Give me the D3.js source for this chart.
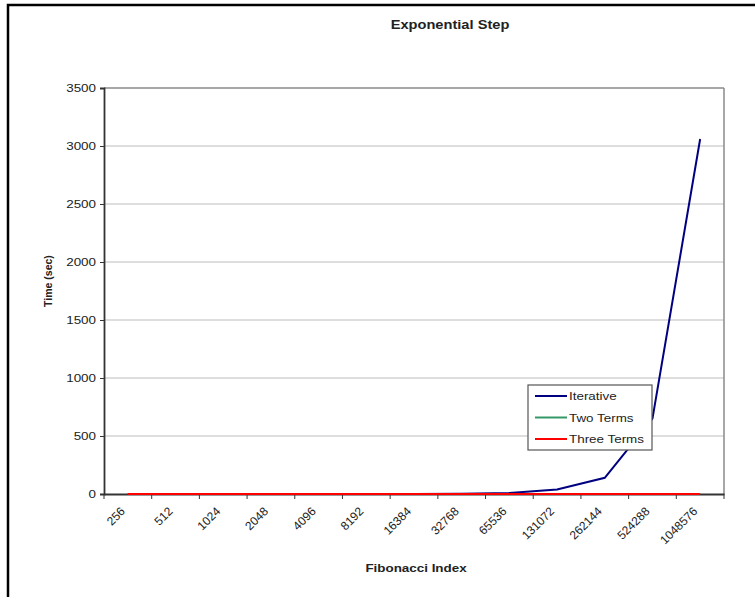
<!DOCTYPE html>
<html>
<head>
<meta charset="utf-8">
<script src="https://cdn.jsdelivr.net/npm/d3@7/dist/d3.min.js"></script>
<style>
html,body{margin:0;padding:0;background:#fff;}
svg{display:block;}
text{font-family:"Liberation Sans",Arial,sans-serif;fill:#222;}
</style>
</head>
<body>
<svg id="chart" width="755" height="597"></svg>
<script>
const categories = ["256","512","1024","2048","4096","8192","16384","32768","65536","131072","262144","524288","1048576"];
const iterative  = [0.01,0.02,0.05,0.1,0.2,0.5,1,3,8,38,140,650,3060];
const twoTerms   = [0,0,0,0,0,0,0,0,0,0,0,0,0];
const threeTerms = [0,0,0,0,0,0,0,0,0,0,0,0,0];
const yTicks = [0,500,1000,1500,2000,2500,3000,3500];
const seriesNames = ["Iterative","Two Terms","Three Terms"];
const seriesColors = ["#000080","#339966","#ff0000"];

const svg = d3.select("#chart");
const L = 104, R = 724, T = 88, B = 494;
const SX = 1.22; // horizontal stretch of the reference text

// outer frame
svg.append("rect").attr("x",8).attr("y",5).attr("width",800).attr("height",700)
  .attr("fill","#fff").attr("stroke","#000").attr("stroke-width",2.5);

const x = d3.scaleBand().domain(categories).range([L,R]).padding(0);
const y = d3.scaleLinear().domain([0,3500]).range([B,T]);

// gridlines
svg.append("g").selectAll("line").data(yTicks.filter(d=>d>0)).join("line")
  .attr("x1",L).attr("x2",R).attr("y1",d=>y(d)).attr("y2",d=>y(d))
  .attr("stroke",d=>d===3500?"#8a8a8a":"#bcbcbc").attr("stroke-width",d=>d===3500?1.5:1);
svg.append("line").attr("x1",R).attr("x2",R).attr("y1",T).attr("y2",B)
  .attr("stroke","#8a8a8a").attr("stroke-width",1.5);

// y axis
const yAxis = d3.axisLeft(y).tickValues(yTicks).tickSize(4).tickFormat(d3.format("d"));
const gy = svg.append("g").attr("transform",`translate(${L},0)`).call(yAxis);
gy.select(".domain").attr("stroke","#333").attr("stroke-width",1.8);
gy.selectAll(".tick line").attr("stroke","#333");
gy.selectAll(".tick text").style("font-size","11px").attr("fill","#222")
  .attr("x",0).attr("transform",`translate(-8,0) scale(${SX},1)`);

// x axis
const xAxis = d3.axisBottom(x).tickSize(0).tickFormat(d=>d);
const gx = svg.append("g").attr("transform",`translate(0,${B})`).call(xAxis);
gx.select(".domain").attr("stroke","#333").attr("stroke-width",1.8);
gx.selectAll(".tick text")
  .style("font-size","12px").attr("fill","#222")
  .attr("text-anchor","end")
  .attr("dy",null).attr("y",0)
  .attr("transform","translate(-2,18) rotate(-45)");
// boundary ticks
svg.append("g").selectAll("line").data(categories.concat(["__end"])).join("line")
  .attr("x1",(d,i)=>L + i*x.step()).attr("x2",(d,i)=>L + i*x.step())
  .attr("y1",B).attr("y2",B+5).attr("stroke","#333").attr("stroke-width",1);

// series
const line = d3.line().x((d,i)=>x(categories[i])+x.bandwidth()/2).y(d=>y(d));
[iterative,twoTerms,threeTerms].forEach((s,k)=>{
  svg.append("path").datum(s).attr("d",line).attr("fill","none")
    .attr("stroke",seriesColors[k]).attr("stroke-width",2);
});

// titles
svg.append("text").attr("transform",`translate(450,29) scale(${SX},1)`).attr("text-anchor","middle")
  .style("font-size","12px").style("font-weight","bold").text("Exponential Step");
svg.append("text").attr("transform",`translate(416,572) scale(${SX},1)`).attr("text-anchor","middle")
  .style("font-size","11px").style("font-weight","bold").text("Fibonacci Index");
svg.append("text").attr("transform",`translate(52,${(T+B)/2-10}) rotate(-90)`).attr("text-anchor","middle")
  .style("font-size","10.5px").style("font-weight","bold").text("Time (sec)");

// legend
const lg = svg.append("g");
lg.append("rect").attr("x",528).attr("y",385).attr("width",124).attr("height",65)
  .attr("fill","#fff").attr("stroke","#555").attr("stroke-width",1.2);
seriesNames.forEach((n,i)=>{
  const yy = 396 + i*21.5;
  lg.append("line").attr("x1",535).attr("x2",567).attr("y1",yy).attr("y2",yy)
    .attr("stroke",seriesColors[i]).attr("stroke-width",2);
  lg.append("text").attr("transform",`translate(569,${yy+4}) scale(${SX},1)`).style("font-size","11px")
    .attr("fill","#222").text(n);
});
</script>
</body>
</html>
